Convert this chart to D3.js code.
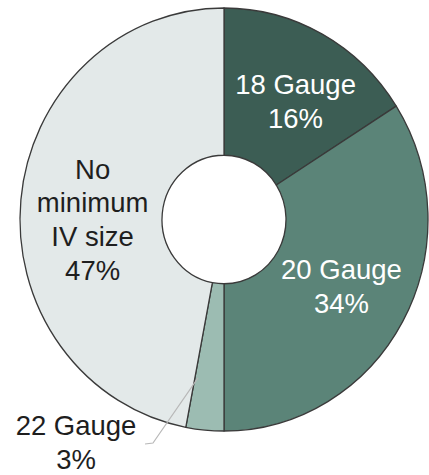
<!DOCTYPE html>
<html>
<head>
<meta charset="utf-8">
<script src="https://cdn.jsdelivr.net/npm/d3@7/dist/d3.min.js"></script>
<style>
  html, body { margin: 0; padding: 0; background: #fff; }
  svg { display: block; }
  text { font-family: "Liberation Sans", Arial, sans-serif; }
</style>
</head>
<body>
<svg id="chart" width="429" height="475"></svg>
<script>
// Minimum IV catheter size share
const categories = ["18 Gauge", "20 Gauge", "22 Gauge", "No minimum IV size"];
const shares = [16, 34, 3, 47];
const labelLines = [["18 Gauge", "16%"], ["20 Gauge", "34%"], ["22 Gauge", "3%"], ["No", "minimum", "IV size", "47%"]];
const fills = ["#3c5d54", "#5b8478", "#9cbcb2", "#e3e9e9"];
const textColors = ["#ffffff", "#ffffff", "#1e1e1e", "#1e1e1e"];

const W = 429, H = 475;
const cx = 224, cy = 219.5, sy = 1.037;
const outerR = 204, innerR = 62;

const svg = d3.select("#chart");
const g = svg.append("g").attr("transform", `translate(${cx},${cy}) scale(1,${sy})`);

const pie = d3.pie().sort(null).value(d => d.v);
const arcs = pie(categories.map((c, i) => ({ c, v: shares[i], i })));
const arc = d3.arc().innerRadius(innerR).outerRadius(outerR);

g.selectAll("path.slice")
  .data(arcs)
  .join("path")
  .attr("class", "slice")
  .attr("d", arc)
  .attr("fill", d => fills[d.data.i])
  .attr("stroke", "#3a3a3a")
  .attr("stroke-width", 1.3)
  .attr("stroke-linejoin", "round");

const fontSize = 27.5, lineGap = 32.5;
const polar = (a, r) => [r * Math.sin(a), -r * Math.cos(a)];

// inner labels sit in the ring; the small slice gets an outside label with a leader
const labelR = 134;
const nudge = { 0: [7, 3], 1: [0, -1], 3: [2, 12] };

arcs.forEach(d => {
  const i = d.data.i;
  const lines = labelLines[i];
  let x, y;
  if (i === 2) {
    x = 76 - cx;
    y = (442 - cy) / sy;
    // leader line from the label to the slice
    const tip = polar(d.endAngle - 0.02, 155);
    g.append("path")
      .attr("d", d3.line()([[x + 69, y + 2 / sy], [x + 77, y + 1 / sy], tip]))
      .attr("fill", "none")
      .attr("stroke", "#b8b8b8")
      .attr("stroke-width", 1.2);
  } else {
    const mid = (d.startAngle + d.endAngle) / 2;
    const p = polar(mid, labelR);
    x = p[0] + nudge[i][0];
    y = p[1] + nudge[i][1];
  }
  const t = g.append("text")
    .attr("text-anchor", "middle")
    .attr("font-size", fontSize)
    .attr("fill", textColors[i]);
  const n = lines.length;
  lines.forEach((s, k) => {
    t.append("tspan")
      .attr("x", x)
      .attr("y", y + (k - (n - 1) / 2) * lineGap + fontSize * 0.36)
      .text(s);
  });
});
</script>
</body>
</html>
